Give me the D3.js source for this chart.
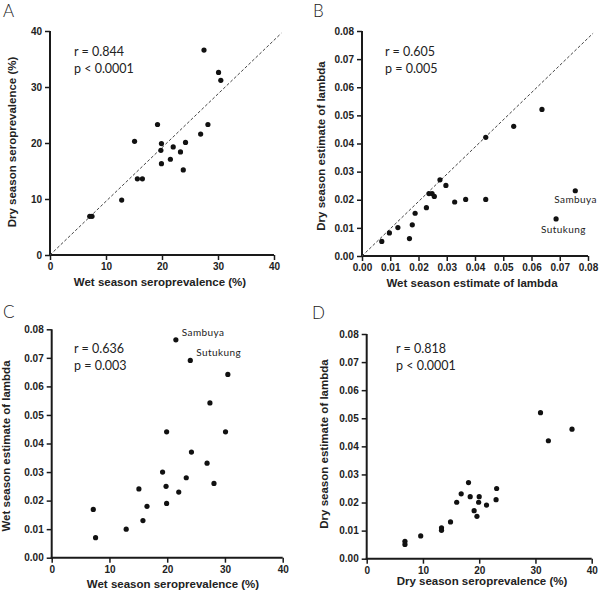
<!DOCTYPE html>
<html><head><meta charset="utf-8">
<script src="https://cdn.jsdelivr.net/npm/d3@7"></script>
<style>
body{margin:0;background:#fff;}
svg{display:block;}
</style></head>
<body>
<svg id="chart" width="600" height="595"></svg>
<script>
// ---- Data ----
// Panel A: wet season seroprevalence (x) vs dry season seroprevalence (y)
const aWet = [27.5,30.1,30.5,19.2,28.2,26.9,15.1,19.9,24.2,22.0,19.8,23.3,21.5,19.9,23.8,15.6,16.5,12.8,7.1,7.5];
const aDry = [36.6,32.6,31.2,23.3,23.3,21.6,20.3,19.9,20.1,19.3,18.7,18.4,17.1,16.3,15.2,13.6,13.6,9.8,6.9,6.9];
// Panel B: wet season lambda (x) vs dry season lambda (y)
const bWet = [0.0637,0.0537,0.0438,0.0276,0.0297,0.0237,0.0248,0.0256,0.0328,0.0367,0.0438,0.0228,0.0188,0.0178,0.0168,0.0127,0.0097,0.0070,0.0755,0.0687];
const bDry = [0.0521,0.0461,0.0422,0.0271,0.0251,0.0222,0.0222,0.0212,0.0192,0.0201,0.0201,0.0172,0.0152,0.0111,0.0062,0.0101,0.0082,0.0052,0.0232,0.0132];
const bNames = ["","","","","","","","","","","","","","","","","","","Sambuya","Sutukung"];
// Panel C: wet season seroprevalence (x) vs wet season lambda (y)
const cSero = [21.5,24.0,30.5,27.4,19.9,30.1,24.2,26.9,19.2,23.3,28.1,15.1,19.8,22.0,19.9,16.5,7.2,15.8,12.9,7.6];
const cLambda = [0.0763,0.0691,0.0642,0.0542,0.0441,0.0441,0.0370,0.0331,0.0300,0.0280,0.0260,0.0241,0.0250,0.0230,0.0190,0.0180,0.0169,0.0130,0.0100,0.0070];
const cNames = ["Sambuya","Sutukung","","","","","","","","","","","","","","","","","",""];
// Panel D: dry season seroprevalence (x) vs dry season lambda (y)
const dSero = [30.9,36.5,32.3,18.1,23.1,16.8,18.4,20.0,16.0,19.9,23.0,21.3,19.1,19.6,14.9,13.3,13.3,9.6,6.8,6.8];
const dLambda = [0.0520,0.0461,0.0420,0.0271,0.0250,0.0231,0.0221,0.0221,0.0201,0.0201,0.0210,0.0191,0.0171,0.0151,0.0131,0.0110,0.0101,0.0081,0.0062,0.0051];

const seroTicks = [0,10,20,30,40];
const lambdaTicks = [0,0.01,0.02,0.03,0.04,0.05,0.06,0.07,0.08];
const diagA = [[0,0],[41.3,39.6]];
const diagB = [[0,0],[0.0818,0.0792]];

const panels = [
  {letter:"A", lx:3, ly:17, x:[50,274], y:[255,31], xd:[0,40], yd:[0,40], xt:seroTicks, yt:seroTicks, xf:d3.format("d"), yf:d3.format("d"),
   xs:aWet, ys:aDry, names:null, diag:diagA,
   xtitle:"Wet season seroprevalence (%)", xtx:160, xty:286, ytitle:"Dry season seroprevalence (%)", ytx:16, yty:142,
   stats:["r = 0.844","p < 0.0001"], sx:74, sy:56},
  {letter:"B", lx:313, ly:17, x:[362,588], y:[256,31], xd:[0,0.08], yd:[0,0.08], xt:lambdaTicks, yt:lambdaTicks, xf:d3.format(".2f"), yf:d3.format(".2f"),
   xs:bWet, ys:bDry, names:bNames, diag:diagB, labelPos:[[-21,12,"start"],[-15,14,"start"]],
   xtitle:"Wet season estimate of lambda", xtx:472, xty:287, ytitle:"Dry season estimate of lambda", ytx:325, yty:146,
   stats:["r = 0.605","p = 0.005"], sx:385, sy:56},
  {letter:"C", lx:3, ly:318, x:[51.7,282.7], y:[557.7,329.3], xd:[0,40], yd:[0,0.08], xt:seroTicks, yt:lambdaTicks, xf:d3.format("d"), yf:d3.format(".2f"),
   xs:cSero, ys:cLambda, names:cNames, diag:null, labelPos:[[6,-4,"start"],[6,-4.5,"start"]],
   xtitle:"Wet season seroprevalence (%)", xtx:173, xty:588, ytitle:"Wet season estimate of lambda", ytx:10, yty:446,
   stats:["r = 0.636","p = 0.003"], sx:74, sy:353},
  {letter:"D", lx:312, ly:319, x:[366.7,591.7], y:[558.7,334], xd:[0,40], yd:[0,0.08], xt:seroTicks, yt:lambdaTicks, xf:d3.format("d"), yf:d3.format(".2f"),
   xs:dSero, ys:dLambda, names:null, diag:null,
   xtitle:"Dry season seroprevalence (%)", xtx:482, xty:585, ytitle:"Dry season estimate of lambda", ytx:328, yty:444,
   stats:["r = 0.818","p < 0.0001"], sx:396, sy:353}
];

const svg = d3.select("#chart");
const ink = "#1a1a1a";

panels.forEach(p => {
  const g = svg.append("g");
  const xs = d3.scaleLinear().domain(p.xd).range(p.x);
  const ys = d3.scaleLinear().domain(p.yd).range(p.y);

  g.append("text").attr("x",p.lx).attr("y",p.ly).text(p.letter)
    .attr("font-family","Lato, 'Open Sans', sans-serif").attr("font-weight",300)
    .attr("font-size",17).attr("fill","#222");

  const xa = g.append("g").attr("transform",`translate(0,${p.y[0]})`)
    .call(d3.axisBottom(xs).tickValues(p.xt).tickFormat(p.xf).tickSizeOuter(0).tickSize(5).tickPadding(3));
  const ya = g.append("g").attr("transform",`translate(${p.x[0]},0)`)
    .call(d3.axisLeft(ys).tickValues(p.yt).tickFormat(p.yf).tickSizeOuter(0).tickSize(5).tickPadding(3));
  [xa,ya].forEach(a=>{
    a.select(".domain").attr("stroke",ink).attr("stroke-width",2);
    a.selectAll(".tick line").attr("stroke",ink).attr("stroke-width",1.5);
    a.selectAll(".tick text").attr("fill","#222").attr("font-family","'Liberation Sans', Arial, sans-serif")
      .attr("font-weight","bold").attr("font-size",10);
  });
  xa.select(".domain").attr("d",`M${p.x[0]-1},0H${p.x[1]}`);
  ya.select(".domain").attr("d",`M0,${p.y[0]+1}V${p.y[1]}`);

  if (p.diag) {
    g.append("line")
      .attr("x1",xs(p.diag[0][0])).attr("y1",ys(p.diag[0][1]))
      .attr("x2",xs(p.diag[1][0])).attr("y2",ys(p.diag[1][1]))
      .attr("stroke","#444").attr("stroke-width",1).attr("stroke-dasharray","3,2");
  }

  const pts = p.xs.map((v,i)=>({x:v,y:p.ys[i],name:p.names?p.names[i]:""}));
  g.selectAll("circle.pt").data(pts).enter().append("circle")
    .attr("cx",d=>xs(d.x)).attr("cy",d=>ys(d.y)).attr("r",2.6).attr("fill","#111");

  if (p.names) {
    let k=0;
    pts.forEach(d=>{
      if(!d.name) return;
      const lp = p.labelPos[k++];
      g.append("text").attr("x",xs(d.x)+lp[0]).attr("y",ys(d.y)+lp[1]).attr("text-anchor",lp[2])
        .text(d.name).attr("font-family","Lato, 'Open Sans', sans-serif").attr("font-size",10)
        .attr("letter-spacing",0.4).attr("fill","#222");
    });
  }

  p.stats.forEach((s,i)=>{
    g.append("text").attr("x",p.sx).attr("y",p.sy+i*17).text(s)
      .attr("font-family","Lato, 'Open Sans', sans-serif").attr("font-size",12.5).attr("fill","#222");
  });

  g.append("text").attr("x",p.xtx).attr("y",p.xty).attr("text-anchor","middle").text(p.xtitle)
    .attr("font-family","'Liberation Sans', Arial, sans-serif").attr("font-weight","bold").attr("font-size",11.5).attr("fill","#222");
  g.append("text").attr("transform",`translate(${p.ytx},${p.yty}) rotate(-90)`).attr("text-anchor","middle").text(p.ytitle)
    .attr("font-family","'Liberation Sans', Arial, sans-serif").attr("font-weight","bold").attr("font-size",11.5).attr("fill","#222");
});
</script>
</body></html>
